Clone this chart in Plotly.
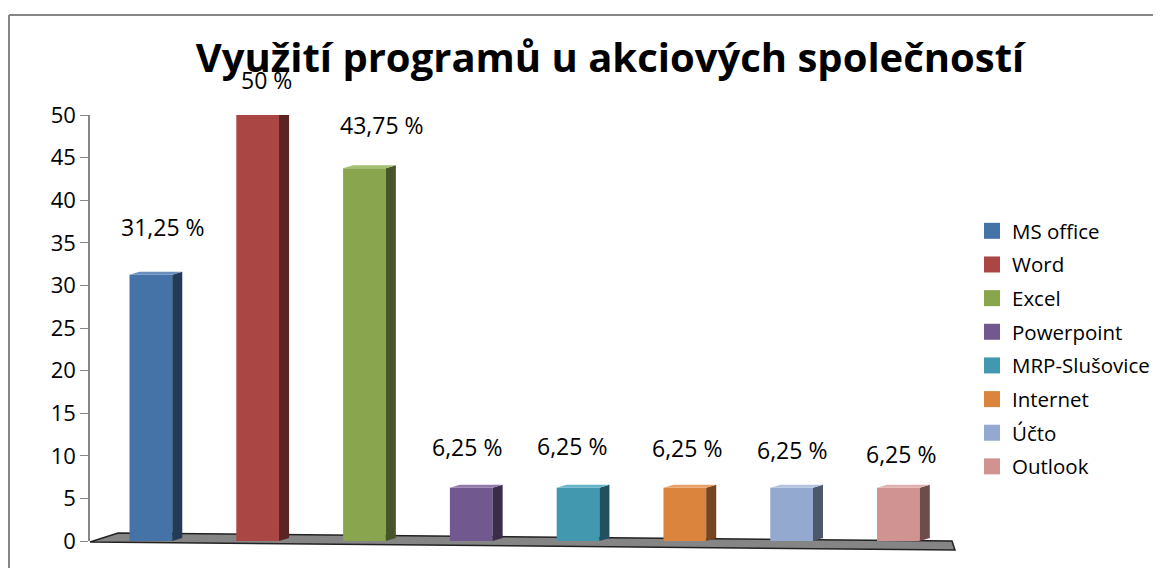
import plotly.graph_objects as go

title = "Využití programů u akciových společností"
categories = ["MS office", "Word", "Excel", "Powerpoint", "MRP-Slušovice", "Internet", "Účto", "Outlook"]
values = [31.25, 50, 43.75, 6.25, 6.25, 6.25, 6.25, 6.25]
labels = ["31,25 %", "50 %", "43,75 %", "6,25 %", "6,25 %", "6,25 %", "6,25 %", "6,25 %"]
colors = ["#4572A7", "#AA4643", "#89A54E", "#71588F", "#4198AF", "#DB843D", "#93A9CF", "#D19392"]
side_colors = ["#243B57", "#592422", "#475628", "#3A2D4A", "#215060", "#774520", "#4D586C", "#6E4C4C"]
top_colors = ["#6A8FBF", "#C46A67", "#A5BF72", "#9079AB", "#66B4C9", "#E8A06A", "#B3C4E0", "#E0B0AF"]
y_ticks = [0, 5, 10, 15, 20, 25, 30, 35, 40, 45, 50]

# page is rendered with an 8px body margin -> work in page pixels, shift by OFF
OFF = 8
W, H = 1161, 568
L, T = 90 - OFF, 115 - OFF
PLOT_R, PLOT_B = 955 - OFF, 541 - OFF
R, B = W - PLOT_R, H - PLOT_B
PW, PH = PLOT_R - L, PLOT_B - T


def pp(px, py):
    """page pixel -> paper coordinates"""
    return (px - OFF - L) / PW, (PLOT_B - (py - OFF)) / PH


FONT = "Open Sans"
BAR_W = 0.40
DX = 0.094   # depth in x (data units)
DY = 0.35    # depth in y (data units)
# label placement tweaks (pixels), mimicking Excel's 3D label placement
LABEL_DX = [12, 9, 18, -4, -6, 2, 0, 3]
LABEL_DY = [48, 35, 43, 41, 42, 40, 38, 34]

fig = go.Figure()
for i, (c, v, col) in enumerate(zip(categories, values, colors)):
    fig.add_trace(go.Bar(
        x=[i], y=[v], name=c, width=BAR_W,
        marker=dict(color=col, line=dict(width=0)),
        legendgroup=c, showlegend=False, hoverinfo="name+y",
    ))
# legend entries with larger square swatches
for c, col in zip(categories, colors):
    fig.add_trace(go.Scatter(
        x=[None], y=[None], mode="markers", name=c, legendgroup=c,
        marker=dict(symbol="square", size=16, color=col, line=dict(width=0)),
        showlegend=True, hoverinfo="skip",
    ))

shapes = []
# floor (decorative)
fl = [pp(90, 542), pp(118, 533), pp(952, 541), pp(955, 550)]
path = "M " + " L ".join(f"{x:.4f},{y:.4f}" for x, y in fl) + " Z"
shapes.append(dict(type="path", xref="paper", yref="paper", path=path,
                   fillcolor="#858585", line=dict(color="#222222", width=1.5), layer="below"))

# 3D side and top faces derived from data
for i, v in enumerate(values):
    x1 = i + BAR_W / 2
    x0 = i - BAR_W / 2
    side = f"M {x1},0 L {x1},{v} L {x1 + DX},{v + DY} L {x1 + DX},{DY} Z"
    shapes.append(dict(type="path", xref="x", yref="y", path=side,
                       fillcolor=side_colors[i], line=dict(width=0), layer="above"))
    top = f"M {x0},{v} L {x1},{v} L {x1 + DX},{v + DY} L {x0 + DX},{v + DY} Z"
    shapes.append(dict(type="path", xref="x", yref="y", path=top,
                       fillcolor=top_colors[i], line=dict(width=0), layer="above"))

# chart border (left and top)
bx0, by0 = pp(9, 15)
bx1, _ = pp(1161, 15)
_, by1 = pp(9, 568)
shapes.append(dict(type="line", xref="paper", yref="paper", x0=bx0, y0=by0, x1=bx1, y1=by0,
                   line=dict(color="#868686", width=2)))
shapes.append(dict(type="line", xref="paper", yref="paper", x0=bx0, y0=by0, x1=bx0, y1=by1,
                   line=dict(color="#868686", width=2)))

annotations = []
for i, (v, t) in enumerate(zip(values, labels)):
    annotations.append(dict(x=i, y=v, xref="x", yref="y", text=t, showarrow=False,
                            xshift=LABEL_DX[i], yshift=LABEL_DY[i],
                            font=dict(family=FONT, size=23, color="#000000")))

fig.update_layout(
    width=W, height=H,
    margin=dict(l=L, r=R, t=T, b=B, pad=0, autoexpand=False),
    paper_bgcolor="white", plot_bgcolor="white",
    barmode="overlay",
    title=dict(text=f"<b>{title}</b>", x=(610 - OFF) / W, xref="container", xanchor="center",
               y=1 - (58 - OFF) / H, yref="container", yanchor="middle",
               font=dict(family=FONT, size=40, color="#000000")),
    xaxis=dict(range=[-0.57, 7.53], showticklabels=False, showline=False, showgrid=False,
               zeroline=False, ticks=""),
    yaxis=dict(range=[0, 50], tickvals=y_ticks, ticktext=[str(t) for t in y_ticks],
               showline=True, linecolor="#868686", linewidth=1.5, ticks="outside", ticklen=8,
               tickcolor="#868686", showgrid=False, zeroline=False,
               tickfont=dict(family=FONT, size=22, color="#000000")),
    legend=dict(x=pp(972, 0)[0], xanchor="left", y=pp(0, 211)[1], yanchor="top",
                font=dict(family=FONT, size=20.5, color="#000000"), tracegroupgap=4,
                bgcolor="rgba(0,0,0,0)"),
    shapes=shapes, annotations=annotations,
    showlegend=True,
)

fig.write_html("out.html")
